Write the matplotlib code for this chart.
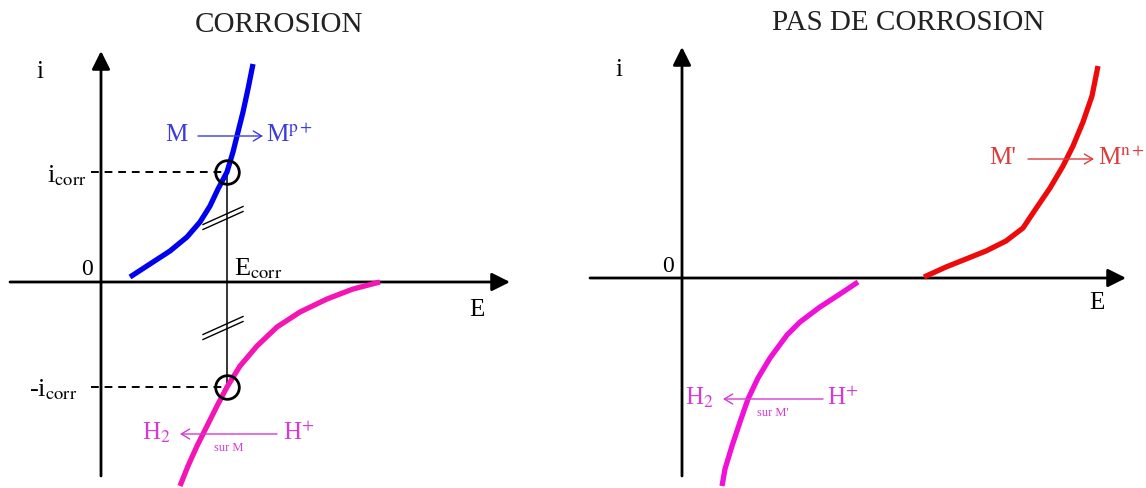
import numpy as np
import matplotlib
matplotlib.use("Agg")
import matplotlib.pyplot as plt

plt.rcParams['font.family'] = ['Liberation Serif', 'DejaVu Serif']
plt.rcParams['mathtext.fontset'] = 'stix'

# --- data (E, i in arbitrary units, origin of each diagram at 0, 0) ---
# left diagram: corrosion
ox_E = [29, 49, 69, 86, 99, 109, 117, 126, 132, 137, 142, 147, 152]  # M -> M^p+
ox_i = [5, 18, 31, 45, 60, 76, 93, 110, 130, 150, 170, 193, 218]
red_E = [279, 252, 226, 199, 176, 156, 139, 126, 116, 106, 96, 87, 79]  # H+ -> H2
red_i = [0, -7, -17, -30, -45, -64, -84, -105, -124, -144, -164, -184, -204]
E_corr = 126
i_corr = 110
i_corr_neg = -105

# right diagram: no corrosion
ox2_E = [242, 264, 284, 304, 324, 341, 353, 368, 381, 391, 401, 410, 416]
ox2_i = [1, 11, 19, 27, 37, 50, 68, 90, 112, 132, 156, 182, 212]
red2_E = [176, 158, 138, 118, 105, 88, 76, 66, 58, 50, 43, 40]
red2_i = [-4, -16, -29, -44, -57, -80, -100, -121, -144, -168, -191, -208]

BLUE = '#0000f0'
BLUE_TXT = '#3c3cdc'
MAG = '#f514b4'
MAG2 = '#f010d8'
MAG_TXT = '#d23cd2'
RED = '#ee0a0a'
RED_TXT = '#dc3c3c'

fig = plt.figure(figsize=(11.46, 4.89), dpi=100)
axL = fig.add_axes([0, 0, 0.5, 1])
axR = fig.add_axes([0.5, 0, 0.5, 1])

axL.set_xlim(-101, 472)
axL.set_ylim(-206, 283)
axR.set_xlim(-109, 464)
axR.set_ylim(-210, 279)
for ax in (axL, axR):
    ax.axis('off')


def draw_axes(ax, x0, x1, y0, y1):
    head = dict(arrowstyle='-|>,head_length=0.5,head_width=0.25',
                lw=2, color='k', mutation_scale=22, shrinkA=0, shrinkB=0)
    ax.annotate('', xy=(x1, 0), xytext=(x0, 0), arrowprops=head)
    ax.annotate('', xy=(0, y1), xytext=(0, y0), arrowprops=head)


def reaction(ax, x_left, x_a0, x_a1, x_right, y, left, right, sub, sub_x,
             color, fs=18, direction='right'):
    ax.text(x_left, y, left, color=color, fontsize=fs, ha='left', va='center')
    ax.text(x_right, y, right, color=color, fontsize=fs, ha='left',
            va='center')
    if direction == 'right':
        xy, xyt = (x_a1, y - 2), (x_a0, y - 2)
    else:
        xy, xyt = (x_a0, y - 2), (x_a1, y - 2)
    ax.annotate('', xy=xy, xytext=xyt,
                arrowprops=dict(arrowstyle='->,head_length=0.5,head_width=0.3',
                                lw=1.0, color=color, shrinkA=0, shrinkB=0,
                                mutation_scale=12))
    if sub:
        ax.text(sub_x, y - 15, sub, color=color, fontsize=9, ha='center',
                va='center')


# ---------------- left: CORROSION ----------------
draw_axes(axL, -91, 409, -194, 231)
axL.plot(ox_E, ox_i, color=BLUE, lw=3.8, solid_capstyle='butt',
         solid_joinstyle='round', zorder=3)
axL.plot(red_E, red_i, color=MAG, lw=3.8, solid_capstyle='butt',
         solid_joinstyle='round', zorder=3)

axL.plot([-10, E_corr], [i_corr, i_corr], color='k', lw=1.4,
         ls=(0, (4, 3)))
axL.plot([-10, E_corr], [i_corr_neg, i_corr_neg], color='k', lw=1.4,
         ls=(0, (4, 3)))
axL.plot([E_corr, E_corr], [i_corr, i_corr_neg], color='k', lw=1.1)
axL.plot([E_corr, E_corr], [i_corr, i_corr_neg], ls='none', marker='o',
         ms=17, mfc='none', mec='k', mew=2, zorder=4)

for yc in (64, -46):
    for d in (-2.5, 2.5):
        axL.plot([102, 142], [yc - 9 + d, yc + 9 + d], color='k', lw=1.0)

axL.text(178, 258, 'CORROSION', fontsize=21, ha='center', va='center',
         color='#222222')
axL.text(-61, 211, 'i', fontsize=18, ha='center', va='center')
axL.text(-14, 13, '0', fontsize=17, ha='center', va='center')
axL.text(376, -27, 'E', fontsize=18, ha='center', va='center')
axL.text(-54, 107, r'i$_{\mathrm{corr}}$', fontsize=19, ha='left',
         va='center')
axL.text(-72, -107, r'-i$_{\mathrm{corr}}$', fontsize=19, ha='left',
         va='center')
axL.text(133, 14, r'E$_{\mathrm{corr}}$', fontsize=19, ha='left',
         va='center')

reaction(axL, 64, 97, 162, 165, 148, 'M', r'M$^{\mathrm{p+}}$', None, 0,
         BLUE_TXT)
reaction(axL, 41, 79, 176, 182, -150, r'H$_2$', r'H$^{+}$', 'sur M', 128,
         MAG_TXT, direction='left')

# ---------------- right: PAS DE CORROSION ----------------
draw_axes(axR, -92, 444, -198, 231)
axR.plot(ox2_E, ox2_i, color=RED, lw=3.8, solid_capstyle='butt',
         solid_joinstyle='round', zorder=3)
axR.plot(red2_E, red2_i, color=MAG2, lw=3.8, solid_capstyle='butt',
         solid_joinstyle='round', zorder=3)

axR.text(226, 256, 'PAS DE CORROSION', fontsize=21, ha='center',
         va='center', color='#222222')
axR.text(-63, 209, 'i', fontsize=18, ha='center', va='center')
axR.text(-14, 12, '0', fontsize=17, ha='center', va='center')
axR.text(415, -24, 'E', fontsize=18, ha='center', va='center')

reaction(axR, 307, 346, 412, 416, 121, "M'", r"M$^{\mathrm{n+}}$", None, 0,
         RED_TXT)
reaction(axR, 3, 41, 141, 145, -119, r'H$_2$', r'H$^{+}$', "sur M'", 91,
         MAG_TXT, direction='left')

fig.savefig('out.png', dpi=100, facecolor='white')
